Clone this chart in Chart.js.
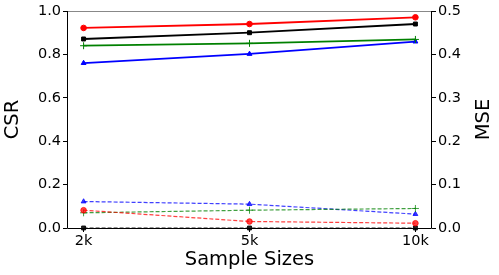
<!DOCTYPE html>
<html>
<head>
<meta charset="utf-8">
<script src="https://cdn.jsdelivr.net/npm/chart.js@4"></script>
<style>
  html, body { margin: 0; padding: 0; background: #fff; }
  #wrap { width: 499px; height: 275px; }
</style>
</head>
<body>
<div id="wrap"><canvas id="grafico" width="499" height="275"></canvas></div>
<script>
// datos
const tamanos = ["2k", "5k", "10k"];

// CSR (eje izquierdo, lineas solidas)
const csrRojo = [0.922, 0.940, 0.971];
const csrNegro = [0.871, 0.900, 0.940];
const csrVerde = [0.840, 0.851, 0.869];
const csrAzul = [0.760, 0.802, 0.859];

// MSE (eje derecho, lineas punteadas)
const mseRojo = [0.041, 0.015, 0.011];
const mseNegro = [0.0, 0.0, 0.0];
const mseVerde = [0.035, 0.041, 0.045];
const mseAzul = [0.061, 0.055, 0.032];

const ticksCSR = [0, 0.2, 0.4, 0.6, 0.8, 1.0];
const ticksMSE = [0, 0.1, 0.2, 0.3, 0.4, 0.5];

Chart.defaults.font.family = "'DejaVu Sans', sans-serif";
Chart.defaults.color = "#000";

function puntos(valores) {
    return valores.map((v, i) => ({ x: i, y: v }));
}

function serie(valores, color, marca, eje, punteada) {
    return {
        data: puntos(valores),
        borderColor: color,
        backgroundColor: color,
        pointBorderColor: color,
        pointBackgroundColor: color,
        pointStyle: marca,
        pointRadius: marca === 'cross' ? 3.5 : 2.8,
        pointBorderWidth: 1,
        borderWidth: punteada ? 1.2 : 1.8,
        borderDash: punteada ? [4, 2] : [],
        yAxisID: eje,
        clip: false,
        tension: 0
    };
}

// dibuja el marco (arriba gris, resto negro) y el titulo MSE
const marco = {
    id: 'marco',
    afterDatasetsDraw(chart) {
        const { ctx, chartArea: a } = chart;
        ctx.save();
        ctx.lineWidth = 1;
        ctx.strokeStyle = '#888';
        ctx.beginPath();
        ctx.moveTo(a.left, a.top + 0.5);
        ctx.lineTo(a.right, a.top + 0.5);
        ctx.stroke();
        ctx.strokeStyle = '#000';
        ctx.beginPath();
        ctx.moveTo(a.left + 0.5, a.top);
        ctx.lineTo(a.left + 0.5, a.bottom + 0.5);
        ctx.lineTo(a.right - 0.5, a.bottom + 0.5);
        ctx.lineTo(a.right - 0.5, a.top);
        ctx.stroke();

        // titulo del eje derecho, leido de abajo hacia arriba
        ctx.translate(484, (a.top + a.bottom) / 2);
        ctx.rotate(-Math.PI / 2);
        ctx.fillStyle = '#000';
        ctx.font = "19.5px 'DejaVu Sans', sans-serif";
        ctx.textAlign = 'center';
        ctx.textBaseline = 'middle';
        ctx.fillText('MSE', 0, 0);
        ctx.restore();
    }
};

const ctx = document.getElementById("grafico").getContext('2d');

new Chart(ctx, {
    type: 'line',
    data: {
        datasets: [
            serie(csrRojo, '#ff0000', 'circle', 'yCSR', false),
            serie(csrNegro, '#000000', 'rect', 'yCSR', false),
            serie(csrVerde, '#008000', 'cross', 'yCSR', false),
            serie(csrAzul, '#0000ff', 'triangle', 'yCSR', false),
            serie(mseRojo, 'rgba(255,0,0,0.75)', 'circle', 'yMSE', true),
            serie(mseNegro, 'rgba(0,0,0,0.85)', 'rect', 'yMSE', true),
            serie(mseVerde, 'rgba(0,128,0,0.75)', 'cross', 'yMSE', true),
            serie(mseAzul, 'rgba(0,0,255,0.75)', 'triangle', 'yMSE', true)
        ]
    },
    options: {
        responsive: false,
        animation: false,
        layout: { padding: { top: 11, left: 0, right: 0, bottom: 0 } },
        plugins: {
            legend: { display: false },
            tooltip: { enabled: false }
        },
        scales: {
            x: {
                type: 'linear',
                min: -0.1,
                max: 2.1,
                afterBuildTicks: (eje) => { eje.ticks = tamanos.map((t, i) => ({ value: i })); },
                afterFit: (eje) => { eje.height = 47; },
                ticks: {
                    callback: (v) => tamanos[v],
                    font: { size: 14.5 },
                    padding: 1,
                    maxRotation: 0
                },
                grid: { drawOnChartArea: false, tickLength: 4, color: '#000' },
                border: { display: false },
                title: { display: true, text: 'Sample Sizes', font: { size: 19.5 }, padding: { top: 0, bottom: 3 } }
            },
            yCSR: {
                position: 'left',
                min: 0,
                max: 1,
                afterBuildTicks: (eje) => { eje.ticks = ticksCSR.map(v => ({ value: v })); },
                afterFit: (eje) => { eje.width = 67; },
                ticks: {
                    callback: (v) => v.toFixed(1),
                    font: { size: 14.5 },
                    padding: 2
                },
                grid: { drawOnChartArea: false, tickLength: 4, color: '#000' },
                border: { display: false },
                title: { display: true, text: 'CSR', font: { size: 19.5 }, padding: { top: 1, bottom: 0 } }
            },
            yMSE: {
                position: 'right',
                min: 0,
                max: 0.5,
                afterBuildTicks: (eje) => { eje.ticks = ticksMSE.map(v => ({ value: v })); },
                afterFit: (eje) => { eje.width = 67; },
                ticks: {
                    callback: (v) => v.toFixed(1),
                    font: { size: 14.5 },
                    padding: 2
                },
                grid: { drawOnChartArea: false, tickLength: 4, color: '#000' },
                border: { display: false },
                title: { display: false }
            }
        }
    },
    plugins: [marco]
});
</script>
</body>
</html>
